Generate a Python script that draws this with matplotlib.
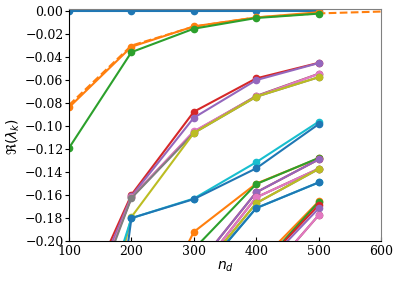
import numpy as np
import matplotlib
matplotlib.use('Agg')
import matplotlib.pyplot as plt

nan = np.nan
nd = [100, 200, 300, 400, 500]
nd_fit = [100, 200, 300, 400, 500, 600]
yticks = [-0.20, -0.18, -0.16, -0.14, -0.12, -0.10, -0.08, -0.06, -0.04, -0.02, 0.00]

k0 = [0.0, 0.0, 0.0, 0.0, 0.0]
k1 = [-0.0837, -0.031, -0.0133, -0.0055, -0.0010]
k2 = [-0.119, -0.0357, -0.0153, -0.0060, -0.0022]
k3 = [-0.280, -0.1597, -0.0875, -0.0585, -0.0450]
k4 = [-0.290, -0.1610, -0.0927, -0.0600, -0.0452]
k5 = [-0.300, -0.1620, -0.1050, -0.0738, -0.0545]
k6 = [-0.300, -0.1620, -0.1045, -0.0742, -0.0546]
k7 = [-0.306, -0.1626, -0.1060, -0.0745, -0.0575]
k8 = [-0.400, -0.1790, -0.1060, -0.0744, -0.0575]
k9 = [-0.350, -0.1800, -0.1630, -0.1314, -0.0962]
k10 = [-0.580, -0.1800, -0.1635, -0.1367, -0.0983]
k11 = [nan, -0.300, -0.192, -0.1500, -0.1280]
k12 = [nan, -0.350, -0.207, -0.1504, -0.1277]
k13 = [nan, -0.400, -0.225, -0.1576, -0.1290]
k14 = [nan, -0.400, -0.225, -0.1576, -0.1290]
k15 = [nan, -0.400, -0.231, -0.1620, -0.1370]
k16 = [nan, -0.400, -0.231, -0.1620, -0.1370]
k17 = [nan, -0.420, -0.233, -0.1670, -0.1373]
k18 = [nan, -0.420, -0.233, -0.1670, -0.1373]
k19 = [nan, -0.450, -0.235, -0.1713, -0.1490]
k20 = [nan, -0.450, -0.235, -0.1713, -0.1490]
k21 = [nan, nan, -0.300, -0.221, -0.1655]
k22 = [nan, nan, -0.310, -0.226, -0.1660]
k23 = [nan, nan, -0.320, -0.226, -0.1687]
k24 = [nan, nan, -0.330, -0.2284, -0.1716]
k25 = [nan, nan, -0.340, -0.240, -0.1775]
k26 = [nan, nan, -0.340, -0.240, -0.1775]
k1_fit = [-0.0817, -0.030, -0.0135, -0.0055, -0.0020, -0.0004]

series = [k0, k1, k2, k3, k4, k5, k6, k7, k8, k9, k10, k11, k12, k13,
          k14, k15, k16, k17, k18, k19, k20, k21, k22, k23, k24, k25, k26]

fig = plt.figure(figsize=(3.99, 2.84), dpi=100)
ax = fig.add_axes([0.173, 0.151, 0.782, 0.816])

colors = plt.rcParams['axes.prop_cycle'].by_key()['color']
for i, s in enumerate(series):
    c = colors[i % len(colors)]
    ax.plot(nd, s, '-o', color=c, lw=1.5, ms=4.5)
    if i == 1:
        ax.plot(nd_fit, k1_fit, '--', color=c, lw=1.5)

ax.set_xlim(100, 600)
ax.set_ylim(-0.2, 0.0015)
ax.set_xticks(nd_fit)
ax.set_yticks(yticks)
ax.set_yticklabels([('%.2f' % abs(v)) if v == 0 else ('%.2f' % v).replace('-', '\u2212')
                    for v in yticks])

for lab in ax.get_xticklabels() + ax.get_yticklabels():
    lab.set_family('DejaVu Serif')
    lab.set_fontsize(9)
ax.tick_params(axis='x', direction='in', length=3, pad=3)
ax.tick_params(axis='y', direction='out', length=3, pad=1)

ax.spines['top'].set_color('gray')
ax.spines['right'].set_color('gray')

ax.set_xlabel(r'$n_d$', fontsize=10, labelpad=1)
ax.set_ylabel(r'$\Re(\lambda_k)$', fontsize=10, labelpad=2)
ax.yaxis.set_label_coords(-0.15, 0.45)

fig.savefig('out.png', dpi=100)
